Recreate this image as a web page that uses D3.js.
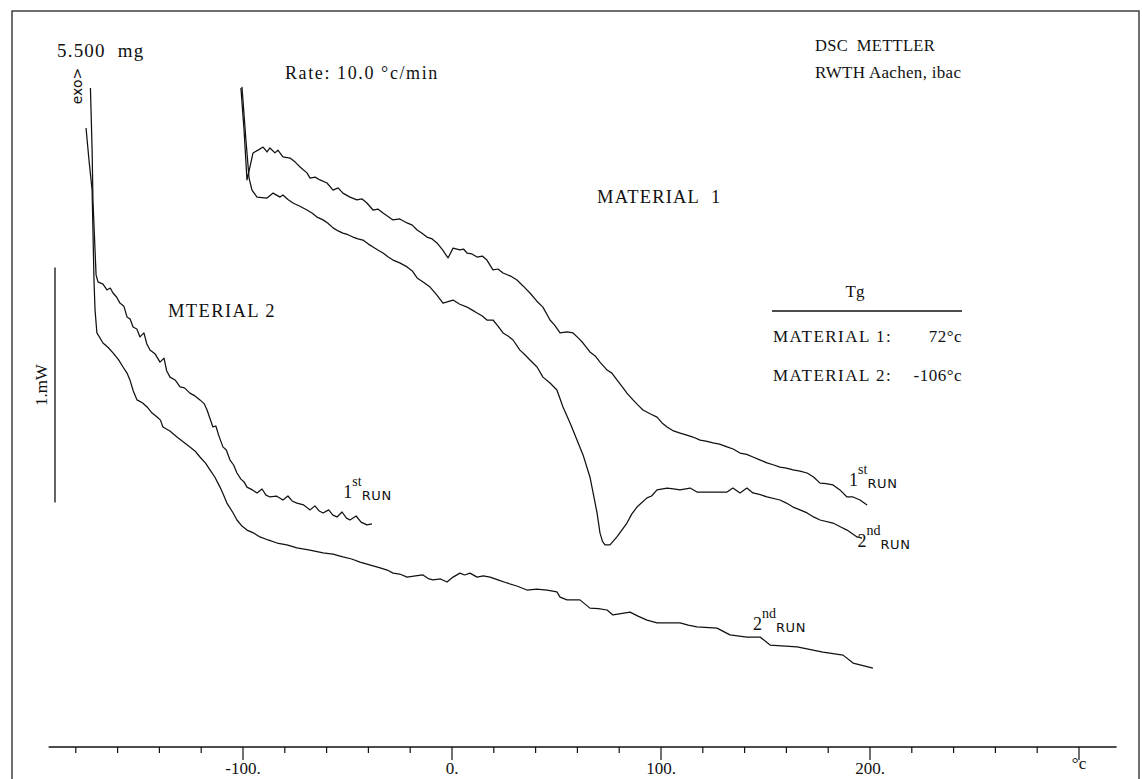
<!DOCTYPE html>
<html>
<head>
<meta charset="utf-8">
<script src="https://d3js.org/d3.v7.min.js"></script>
<style>
  body { margin: 0; background: #fff; }
  svg { display: block; }
  .curve { fill: none; stroke: #111; stroke-width: 1.25; stroke-linejoin: round; }
  .lbl { font-family: "Liberation Serif", "Times New Roman", serif; fill: #111; white-space: pre; }
  .sans { font-family: "DejaVu Sans", sans-serif; fill: #111; }
</style>
</head>
<body>
<div id="chart"></div>
<script>
// temperature (°C) vs heat flow (mW, arbitrary zero)
let m1Run1 = [[-101.0,2.804],[-99.5,2.626],[-98.1,2.413],[-96.7,2.468],[-95.2,2.528],[-92.8,2.540],[-90.4,2.553],[-88.5,2.532],[-87.1,2.549],[-84.7,2.528],[-83.3,2.540],[-80.9,2.511],[-77.5,2.506],[-75.0,2.489],[-72.7,2.468],[-69.4,2.443],[-67.9,2.421],[-65.5,2.425],[-63.2,2.413],[-59.8,2.400],[-56.9,2.370],[-54.5,2.379],[-52.2,2.357],[-48.8,2.340],[-45.5,2.328],[-43.0,2.332],[-40.7,2.315],[-37.8,2.285],[-35.5,2.289],[-33.0,2.272],[-28.2,2.243],[-25.0,2.247],[-21.5,2.230],[-19.0,2.221],[-16.7,2.200],[-14.5,2.187],[-12.0,2.170],[-9.5,2.162],[-7.2,2.145],[-4.5,2.115],[-1.9,2.081],[0.5,2.123],[3.8,2.115],[5.5,2.119],[7.2,2.102],[9.5,2.098],[12.0,2.085],[14.5,2.089],[16.7,2.072],[19.6,2.030],[22.0,2.034],[24.4,2.017],[28.0,2.004],[31.1,1.987],[34.0,1.962],[37.3,1.932],[40.5,1.898],[43.5,1.872],[46.9,1.817],[49.0,1.796],[51.7,1.762],[55.0,1.766],[57.9,1.762],[60.5,1.740],[62.7,1.719],[66.0,1.681],[68.5,1.664],[70.8,1.638],[74.2,1.604],[76.5,1.591],[78.9,1.562],[81.5,1.532],[83.7,1.506],[86.6,1.477],[89.0,1.455],[91.4,1.434],[95.0,1.417],[98.1,1.404],[100.5,1.379],[102.9,1.362],[106.0,1.345],[109.1,1.336],[112.0,1.328],[115.3,1.319],[118.7,1.306],[121.5,1.302],[124.9,1.294],[128.0,1.289],[131.6,1.277],[134.5,1.268],[137.8,1.251],[141.0,1.245],[144.0,1.234],[147.0,1.223],[150.7,1.209],[154.0,1.200],[156.9,1.191],[160.0,1.187],[163.2,1.179],[166.5,1.174],[169.9,1.166],[173.0,1.149],[176.1,1.123],[179.0,1.121],[182.3,1.115],[185.6,1.094],[189.0,1.064],[191.9,1.064],[195.2,1.051],[198.6,1.030]];

let m1Run2 = [[-100.5,2.809],[-98.6,2.583],[-97.1,2.421],[-95.7,2.370],[-93.3,2.340],[-88.5,2.336],[-85.6,2.357],[-82.3,2.340],[-80.9,2.349],[-78.5,2.330],[-76.1,2.315],[-73.0,2.302],[-69.4,2.285],[-67.0,2.272],[-64.6,2.255],[-61.7,2.243],[-59.5,2.230],[-56.9,2.209],[-54.5,2.196],[-52.2,2.187],[-49.8,2.180],[-47.4,2.170],[-45.0,2.162],[-42.6,2.157],[-40.0,2.140],[-37.8,2.128],[-35.5,2.115],[-33.0,2.102],[-30.5,2.085],[-28.2,2.072],[-25.0,2.060],[-21.5,2.043],[-19.0,2.026],[-16.7,1.996],[-13.5,1.977],[-10.5,1.957],[-7.5,1.926],[-4.3,1.889],[0.5,1.902],[3.5,1.885],[7.2,1.872],[9.5,1.860],[12.0,1.847],[14.5,1.834],[16.7,1.817],[19.6,1.817],[22.0,1.791],[24.4,1.762],[26.8,1.749],[29.2,1.732],[32.5,1.689],[35.0,1.668],[37.3,1.647],[40.7,1.617],[43.5,1.574],[46.9,1.549],[50.2,1.519],[53.1,1.447],[56.5,1.379],[59.8,1.306],[62.7,1.243],[66.0,1.149],[67.9,1.064],[69.4,0.996],[70.8,0.911],[72.0,0.875],[73.2,0.860],[75.6,0.860],[78.9,0.894],[83.7,0.953],[86.0,0.991],[88.5,1.021],[93.3,1.060],[95.5,1.068],[98.1,1.094],[102.9,1.102],[106.0,1.098],[109.1,1.094],[113.9,1.102],[117.2,1.085],[122.0,1.085],[131.6,1.085],[134.4,1.102],[137.8,1.081],[141.1,1.102],[144.0,1.081],[147.5,1.074],[150.7,1.064],[156.9,1.051],[160.0,1.038],[163.2,1.021],[166.5,1.009],[169.9,0.996],[173.0,0.979],[176.1,0.966],[182.3,0.953],[186.0,0.936],[189.0,0.923],[193.8,0.894],[196.2,0.889]];

let m2Run1 = [[-173.0,2.804],[-172.2,2.540],[-171.8,2.328],[-170.8,2.115],[-170.3,2.009],[-169.4,1.979],[-167.0,1.970],[-165.1,1.945],[-163.5,1.953],[-162.2,1.932],[-160.5,1.915],[-158.9,1.889],[-157.0,1.876],[-155.5,1.830],[-154.0,1.821],[-152.6,1.787],[-150.8,1.779],[-149.3,1.745],[-147.4,1.762],[-146.0,1.715],[-144.5,1.689],[-142.0,1.672],[-139.7,1.638],[-137.8,1.655],[-136.5,1.600],[-134.9,1.574],[-132.5,1.562],[-130.1,1.532],[-128.0,1.528],[-125.4,1.506],[-123.0,1.494],[-120.6,1.477],[-118.5,1.460],[-117.2,1.434],[-114.4,1.362],[-113.0,1.366],[-111.5,1.323],[-109.6,1.277],[-108.0,1.264],[-106.2,1.221],[-104.5,1.200],[-102.9,1.166],[-101.0,1.140],[-99.5,1.128],[-98.1,1.106],[-95.5,1.094],[-93.3,1.081],[-90.9,1.098],[-89.0,1.072],[-87.1,1.064],[-84.0,1.068],[-80.9,1.051],[-78.5,1.068],[-76.5,1.047],[-74.2,1.038],[-71.0,1.030],[-67.9,1.009],[-65.6,1.026],[-63.5,1.004],[-61.7,0.996],[-59.0,1.009],[-57.0,0.987],[-55.0,0.979],[-52.6,1.000],[-50.5,0.974],[-48.8,0.966],[-45.9,0.983],[-43.5,0.957],[-40.7,0.945],[-38.3,0.949]];

let m2Run2 = [[-175.1,2.634],[-173.7,2.498],[-172.2,2.370],[-171.8,2.200],[-171.3,1.987],[-170.8,1.860],[-169.9,1.762],[-167.0,1.719],[-164.5,1.700],[-162.2,1.677],[-159.5,1.647],[-157.4,1.617],[-155.5,1.591],[-154.1,1.562],[-152.5,1.515],[-150.7,1.477],[-148.0,1.464],[-145.9,1.447],[-143.5,1.421],[-141.1,1.404],[-139.5,1.391],[-138.3,1.362],[-135.0,1.345],[-131.6,1.319],[-128.5,1.298],[-125.4,1.277],[-123.0,1.260],[-120.6,1.234],[-118.0,1.209],[-115.8,1.179],[-113.5,1.149],[-111.0,1.106],[-109.5,1.077],[-107.7,1.038],[-105.0,1.000],[-102.9,0.966],[-100.5,0.940],[-98.1,0.923],[-95.0,0.911],[-91.9,0.894],[-88.0,0.881],[-83.7,0.868],[-79.0,0.860],[-74.2,0.847],[-68.0,0.838],[-61.7,0.826],[-57.0,0.821],[-52.2,0.809],[-48.0,0.800],[-44.0,0.787],[-39.0,0.774],[-34.4,0.762],[-31.0,0.753],[-28.2,0.740],[-25.0,0.736],[-21.5,0.723],[-17.5,0.728],[-13.9,0.732],[-11.0,0.715],[-9.1,0.711],[-5.5,0.715],[-2.4,0.702],[0.5,0.723],[3.8,0.740],[6.0,0.732],[8.6,0.740],[12.0,0.723],[15.0,0.728],[18.2,0.723],[22.0,0.711],[26.3,0.698],[31.0,0.685],[35.9,0.668],[40.5,0.672],[45.5,0.668],[50.2,0.660],[51.7,0.638],[55.0,0.626],[61.2,0.626],[66.0,0.591],[70.0,0.589],[74.2,0.583],[77.0,0.562],[85.2,0.574],[89.0,0.557],[93.3,0.540],[98.1,0.528],[109.1,0.528],[113.0,0.519],[117.2,0.511],[126.8,0.506],[133.0,0.477],[141.1,0.468],[147.4,0.468],[152.2,0.434],[165.1,0.426],[177.5,0.404],[187.1,0.391],[191.9,0.357],[201.4,0.336]];

let majorTicks = [-100, 0, 100, 200, 300];
let majorLabels = ["-100.", "0.", "100.", "200.", "°c"];
let minorTicks = [-180, -160, -140, -120, -80, -60, -40, -20, 20, 40, 60, 80, 120, 140, 160, 180, 220, 240, 260, 280];

let tgMaterials = ["MATERIAL 1:", "MATERIAL 2:"];
let tgValues = ["72°c", "-106°c"];

// run labels: [ordinal, suffix, temperature, mW]
let runLabels = [
  ["1", "st", -52, 1.06],
  ["2", "nd", 144, 0.50],
  ["1", "st", 190, 1.11],
  ["2", "nd", 194, 0.85]
];

let width = 1142, height = 779;
let axisY = 747;

var svg = d3.select("#chart").append("svg")
  .attr("width", width)
  .attr("height", height);

// frame of the plot sheet
svg.append("rect")
  .attr("x", 12).attr("y", 11)
  .attr("width", 1127).attr("height", 800)
  .attr("fill", "none").attr("stroke", "#222").attr("stroke-width", 1.3);

var x = d3.scaleLinear()
  .domain([-100, 200])
  .range([243, 870]);

var y = d3.scaleLinear()
  .domain([0, 3])
  .range([axisY, axisY - 3 * 235]);

// temperature axis
var axisG = svg.append("g")
  .attr("transform", "translate(0," + axisY + ")");

axisG.append("line")
  .attr("x1", x(-193)).attr("x2", x(318))
  .attr("y1", 0).attr("y2", 0)
  .attr("stroke", "#111").attr("stroke-width", 1.4);

axisG.selectAll(".minor")
  .data(minorTicks)
  .enter().append("line")
  .attr("class", "minor")
  .attr("x1", d => x(d)).attr("x2", d => x(d))
  .attr("y1", 0).attr("y2", 6)
  .attr("stroke", "#111").attr("stroke-width", 1.2);

axisG.selectAll(".major")
  .data(majorTicks)
  .enter().append("line")
  .attr("class", "major")
  .attr("x1", d => x(d)).attr("x2", d => x(d))
  .attr("y1", 0).attr("y2", 13)
  .attr("stroke", "#111").attr("stroke-width", 1.2);

axisG.selectAll(".ticklbl")
  .data(majorTicks)
  .enter().append("text")
  .attr("class", "lbl")
  .attr("x", d => x(d))
  .attr("y", (d, i) => i == 4 ? 22 : 27)
  .attr("text-anchor", "middle")
  .style("font-size", "17px")
  .text((d, i) => majorLabels[i]);

// the curves
var line = d3.line()
  .x(d => x(d[0]))
  .y(d => y(d[1]));

[m1Run1, m1Run2, m2Run1, m2Run2].forEach(data => {
  svg.append("path")
    .attr("class", "curve")
    .attr("d", line(data));
});

// 1 mW scale bar
svg.append("line")
  .attr("x1", 55).attr("x2", 55)
  .attr("y1", y(1.04)).attr("y2", y(2.04))
  .attr("stroke", "#111").attr("stroke-width", 1.3);

svg.append("text")
  .attr("class", "lbl")
  .attr("transform", "translate(47," + y(1.54) + ") rotate(-90)")
  .attr("text-anchor", "middle")
  .style("font-size", "17px")
  .text("1.mW");

svg.append("text")
  .attr("class", "sans")
  .attr("transform", "translate(82,86) rotate(-90)")
  .attr("text-anchor", "middle")
  .style("font-size", "14px")
  .text("exo>");

// header texts
let addText = function (tx, ty, str, size, anchor, spacing) {
  return svg.append("text")
    .attr("class", "lbl")
    .attr("x", tx).attr("y", ty)
    .attr("text-anchor", anchor || "start")
    .style("font-size", size + "px")
    .style("letter-spacing", (spacing || 0) + "px")
    .text(str);
};

addText(57, 57, "5.500  mg", 19, "start", 1.2);
addText(285, 79, "Rate: 10.0 °c/min", 18, "start", 1.6);
addText(815, 51, "DSC  METTLER", 16.5, "start", 0.3);
addText(815, 78, "RWTH Aachen, ibac", 17, "start", 0.3);
addText(597, 203, "MATERIAL  1", 18.5, "start", 1.2);
addText(168, 317, "MTERIAL 2", 18.5, "start", 1.4);

// Tg table
addText(855, 297, "Tg", 17, "middle");
svg.append("line")
  .attr("x1", 772).attr("x2", 962)
  .attr("y1", 311).attr("y2", 311)
  .attr("stroke", "#111").attr("stroke-width", 1.3);

tgMaterials.forEach((m, i) => {
  addText(773, 342 + i * 39, m, 17, "start", 1.5);
  addText(962, 342 + i * 39, tgValues[i], 17, "end", 0.5);
});

// run labels with super/subscripts
runLabels.forEach(r => {
  var t = svg.append("text")
    .attr("x", x(r[2]))
    .attr("y", y(r[3]))
    .style("font-size", "18px");
  t.append("tspan").attr("class", "lbl").text(r[0]);
  t.append("tspan").attr("class", "lbl").attr("dy", -12).style("font-size", "14px").text(r[1]);
  t.append("tspan").attr("class", "sans").attr("dy", 14).style("font-size", "13px").style("letter-spacing", "0.6px").text("RUN");
});
</script>
</body>
</html>
